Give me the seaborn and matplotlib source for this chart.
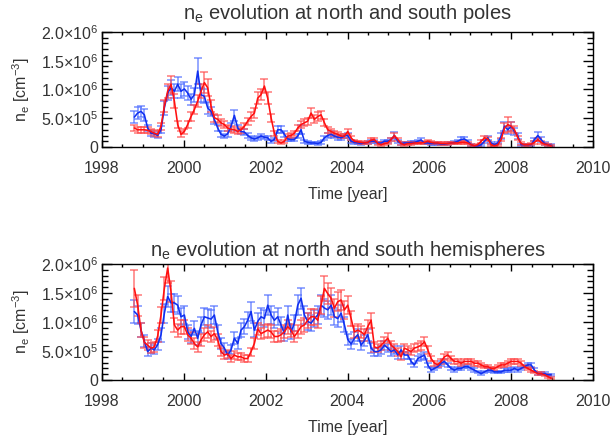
import numpy as np
import pandas as pd
import matplotlib
matplotlib.use("Agg")
import matplotlib.pyplot as plt
from matplotlib.ticker import MultipleLocator, FixedLocator, FixedFormatter
import seaborn as sns

# ---------------- data (ne in units of 1e6 cm^-3) ----------------
TIME = [1998.790, 1998.872, 1998.953, 1999.035, 1999.116, 1999.198, 1999.279, 1999.361,
        1999.442, 1999.524, 1999.605, 1999.687, 1999.768, 1999.850, 1999.931, 2000.013,
        2000.094, 2000.176, 2000.257, 2000.339, 2000.420, 2000.502, 2000.583, 2000.665,
        2000.746, 2000.828, 2000.909, 2000.991, 2001.072, 2001.154, 2001.235, 2001.317,
        2001.398, 2001.480, 2001.561, 2001.643, 2001.724, 2001.806, 2001.887, 2001.969,
        2002.050, 2002.132, 2002.213, 2002.295, 2002.376, 2002.458, 2002.539, 2002.621,
        2002.702, 2002.784, 2002.865, 2002.947, 2003.028, 2003.110, 2003.191, 2003.273,
        2003.354, 2003.436, 2003.517, 2003.599, 2003.680, 2003.762, 2003.843, 2003.925,
        2004.006, 2004.088, 2004.169, 2004.251, 2004.332, 2004.414, 2004.495, 2004.577,
        2004.658, 2004.740, 2004.821, 2004.903, 2004.984, 2005.066, 2005.147, 2005.229,
        2005.310, 2005.392, 2005.473, 2005.555, 2005.636, 2005.718, 2005.799, 2005.881,
        2005.962, 2006.044, 2006.125, 2006.207, 2006.288, 2006.370, 2006.451, 2006.533,
        2006.614, 2006.696, 2006.777, 2006.859, 2006.940, 2007.022, 2007.103, 2007.185,
        2007.266, 2007.348, 2007.429, 2007.511, 2007.592, 2007.674, 2007.755, 2007.837,
        2007.918, 2008.000, 2008.081, 2008.163, 2008.244, 2008.326, 2008.407, 2008.489,
        2008.570, 2008.652, 2008.733, 2008.815, 2008.896, 2008.978]

POLE_BLUE = [0.52, 0.59, 0.62, 0.56, 0.33, 0.24, 0.23, 0.20, 0.30, 0.68, 0.94, 1.03, 0.97, 1.09,
             0.97, 1.01, 0.94, 0.83, 0.91, 1.32, 0.91, 0.88, 0.68, 0.62, 0.48, 0.33, 0.22, 0.19,
             0.23, 0.36, 0.55, 0.33, 0.27, 0.26, 0.20, 0.16, 0.14, 0.16, 0.19, 0.17, 0.16, 0.10,
             0.13, 0.30, 0.30, 0.22, 0.14, 0.13, 0.13, 0.19, 0.30, 0.10, 0.08, 0.07, 0.07, 0.06,
             0.08, 0.16, 0.20, 0.22, 0.19, 0.17, 0.16, 0.19, 0.20, 0.10, 0.08, 0.07, 0.06, 0.07,
             0.08, 0.10, 0.10, 0.07, 0.07, 0.10, 0.10, 0.13, 0.20, 0.10, 0.06, 0.07, 0.07, 0.08,
             0.08, 0.10, 0.12, 0.07, 0.07, 0.06, 0.06, 0.06, 0.05, 0.05, 0.06, 0.07, 0.08, 0.10,
             0.13, 0.14, 0.10, 0.04, 0.02, 0.02, 0.04, 0.10, 0.16, 0.07, 0.04, 0.07, 0.19, 0.36,
             0.30, 0.36, 0.27, 0.19, 0.04, 0.04, 0.04, 0.04, 0.13, 0.20, 0.13, 0.06, 0.04, 0.03]
POLE_BLUE_ERR = [0.10, 0.10, 0.10, 0.10, 0.06, 0.05, 0.05, 0.05, 0.06, 0.12, 0.12, 0.13, 0.12, 0.12,
                 0.12, 0.12, 0.12, 0.10, 0.12, 0.22, 0.12, 0.12, 0.10, 0.08, 0.08, 0.06, 0.05, 0.04,
                 0.05, 0.06, 0.10, 0.06, 0.05, 0.05, 0.04, 0.04, 0.03, 0.03, 0.04, 0.03, 0.03, 0.03,
                 0.03, 0.06, 0.06, 0.05, 0.03, 0.03, 0.03, 0.04, 0.08, 0.03, 0.02, 0.02, 0.02, 0.02,
                 0.02, 0.04, 0.04, 0.05, 0.04, 0.04, 0.04, 0.04, 0.04, 0.03, 0.02, 0.02, 0.02, 0.02,
                 0.02, 0.03, 0.03, 0.02, 0.02, 0.03, 0.03, 0.03, 0.06, 0.03, 0.02, 0.02, 0.02, 0.02,
                 0.02, 0.03, 0.04, 0.02, 0.02, 0.02, 0.02, 0.02, 0.02, 0.02, 0.02, 0.02, 0.02, 0.03,
                 0.04, 0.04, 0.03, 0.02, 0.02, 0.02, 0.02, 0.03, 0.04, 0.02, 0.02, 0.02, 0.05, 0.08,
                 0.07, 0.08, 0.06, 0.05, 0.02, 0.02, 0.02, 0.02, 0.03, 0.06, 0.04, 0.02, 0.02, 0.02]

POLE_RED = [0.33, 0.30, 0.30, 0.30, 0.29, 0.27, 0.24, 0.22, 0.36, 0.71, 0.97, 1.09, 0.80, 0.39,
            0.22, 0.27, 0.39, 0.53, 0.65, 0.80, 0.97, 1.12, 1.03, 0.71, 0.51, 0.48, 0.42, 0.39,
            0.33, 0.31, 0.30, 0.27, 0.30, 0.36, 0.45, 0.53, 0.59, 0.85, 0.91, 1.06, 0.85, 0.51,
            0.24, 0.10, 0.07, 0.10, 0.19, 0.20, 0.24, 0.33, 0.39, 0.42, 0.45, 0.59, 0.48, 0.53,
            0.56, 0.42, 0.30, 0.27, 0.24, 0.22, 0.19, 0.19, 0.27, 0.16, 0.10, 0.09, 0.08, 0.07,
            0.08, 0.12, 0.13, 0.06, 0.04, 0.06, 0.07, 0.13, 0.20, 0.13, 0.06, 0.04, 0.06, 0.06,
            0.07, 0.07, 0.07, 0.08, 0.10, 0.08, 0.07, 0.07, 0.06, 0.06, 0.06, 0.07, 0.07, 0.07,
            0.08, 0.08, 0.07, 0.04, 0.02, 0.04, 0.10, 0.16, 0.14, 0.04, 0.02, 0.04, 0.13, 0.33,
            0.39, 0.36, 0.30, 0.16, 0.06, 0.04, 0.04, 0.05, 0.08, 0.13, 0.08, 0.05, 0.04, 0.02]
POLE_RED_ERR = [0.06, 0.05, 0.05, 0.05, 0.05, 0.05, 0.05, 0.05, 0.06, 0.10, 0.12, 0.15, 0.12, 0.06,
                0.05, 0.05, 0.06, 0.08, 0.08, 0.10, 0.12, 0.18, 0.15, 0.10, 0.07, 0.07, 0.06, 0.06,
                0.05, 0.05, 0.05, 0.05, 0.05, 0.05, 0.06, 0.07, 0.08, 0.10, 0.10, 0.12, 0.10, 0.07,
                0.04, 0.03, 0.02, 0.03, 0.04, 0.04, 0.04, 0.05, 0.06, 0.06, 0.06, 0.08, 0.07, 0.07,
                0.07, 0.06, 0.05, 0.04, 0.04, 0.04, 0.04, 0.04, 0.05, 0.03, 0.02, 0.02, 0.02, 0.02,
                0.02, 0.03, 0.03, 0.02, 0.02, 0.02, 0.02, 0.03, 0.05, 0.03, 0.02, 0.02, 0.02, 0.02,
                0.02, 0.02, 0.02, 0.02, 0.03, 0.02, 0.02, 0.02, 0.02, 0.02, 0.02, 0.02, 0.02, 0.02,
                0.02, 0.02, 0.02, 0.02, 0.02, 0.02, 0.03, 0.04, 0.04, 0.02, 0.02, 0.02, 0.03, 0.08,
                0.13, 0.08, 0.06, 0.04, 0.02, 0.02, 0.02, 0.02, 0.02, 0.03, 0.02, 0.02, 0.02, 0.02]

HEMI_BLUE = [1.18, 1.12, 0.86, 0.67, 0.49, 0.55, 0.52, 0.61, 0.78, 1.15, 1.44, 1.33, 1.33, 1.29,
             1.09, 1.12, 0.83, 0.75, 0.89, 0.72, 0.95, 1.09, 1.07, 1.05, 1.12, 0.83, 0.63, 0.55,
             0.43, 0.52, 0.72, 0.63, 0.86, 0.92, 1.03, 1.18, 0.86, 1.01, 1.09, 1.06, 1.29, 1.12,
             1.03, 1.09, 0.95, 0.80, 1.12, 0.83, 0.98, 1.29, 1.41, 1.12, 1.01, 0.98, 1.06, 1.12,
             1.29, 1.24, 1.21, 1.29, 1.09, 1.06, 1.15, 0.95, 0.70, 0.62, 0.72, 0.78, 0.60, 0.68,
             0.78, 0.55, 0.49, 0.49, 0.52, 0.60, 0.55, 0.49, 0.52, 0.43, 0.52, 0.43, 0.43, 0.32,
             0.26, 0.37, 0.40, 0.43, 0.26, 0.17, 0.20, 0.23, 0.29, 0.32, 0.26, 0.20, 0.17, 0.20,
             0.20, 0.23, 0.23, 0.20, 0.17, 0.14, 0.11, 0.14, 0.17, 0.17, 0.14, 0.14, 0.14, 0.17,
             0.17, 0.17, 0.20, 0.17, 0.20, 0.23, 0.26, 0.26, 0.17, 0.11, 0.11, 0.11, 0.09, 0.09]
HEMI_BLUE_ERR = [0.20, 0.16, 0.12, 0.10, 0.08, 0.08, 0.08, 0.10, 0.12, 0.16, 0.18, 0.16, 0.16, 0.16,
                 0.15, 0.15, 0.12, 0.12, 0.12, 0.12, 0.14, 0.15, 0.15, 0.15, 0.15, 0.12, 0.10, 0.08,
                 0.07, 0.08, 0.10, 0.10, 0.12, 0.13, 0.14, 0.16, 0.12, 0.14, 0.15, 0.15, 0.17, 0.15,
                 0.14, 0.15, 0.14, 0.12, 0.15, 0.12, 0.14, 0.17, 0.18, 0.15, 0.14, 0.14, 0.15, 0.15,
                 0.17, 0.16, 0.16, 0.17, 0.15, 0.15, 0.15, 0.13, 0.10, 0.09, 0.10, 0.10, 0.08, 0.09,
                 0.10, 0.08, 0.07, 0.07, 0.07, 0.08, 0.07, 0.07, 0.07, 0.06, 0.07, 0.06, 0.06, 0.05,
                 0.04, 0.05, 0.05, 0.06, 0.04, 0.03, 0.03, 0.03, 0.04, 0.04, 0.04, 0.03, 0.03, 0.03,
                 0.03, 0.03, 0.03, 0.03, 0.03, 0.02, 0.02, 0.02, 0.03, 0.03, 0.02, 0.02, 0.02, 0.03,
                 0.03, 0.03, 0.03, 0.03, 0.03, 0.03, 0.04, 0.04, 0.03, 0.02, 0.02, 0.02, 0.02, 0.02]

HEMI_RED = [1.58, 1.29, 0.86, 0.65, 0.60, 0.55, 0.57, 0.76, 1.12, 1.58, 1.93, 1.52, 0.95, 0.86,
            0.92, 0.92, 0.78, 0.72, 0.63, 0.57, 0.69, 0.78, 0.83, 0.75, 0.80, 0.69, 0.49, 0.43,
            0.45, 0.37, 0.43, 0.40, 0.40, 0.37, 0.37, 0.49, 0.63, 0.88, 0.80, 0.83, 0.86, 0.83,
            0.75, 0.75, 0.78, 0.83, 0.92, 0.86, 0.75, 0.83, 0.92, 0.95, 1.03, 1.09, 1.09, 1.03,
            1.29, 1.58, 1.49, 1.41, 1.24, 1.35, 1.38, 1.21, 1.29, 1.06, 0.83, 0.86, 0.83, 0.78,
            0.92, 1.03, 0.57, 0.55, 0.60, 0.66, 0.72, 0.60, 0.55, 0.49, 0.40, 0.55, 0.52, 0.49,
            0.55, 0.57, 0.60, 0.66, 0.52, 0.37, 0.29, 0.26, 0.32, 0.40, 0.43, 0.37, 0.32, 0.32,
            0.29, 0.32, 0.32, 0.32, 0.29, 0.29, 0.26, 0.23, 0.23, 0.20, 0.20, 0.23, 0.26, 0.26,
            0.29, 0.32, 0.32, 0.32, 0.29, 0.23, 0.20, 0.17, 0.14, 0.11, 0.11, 0.09, 0.06, 0.03]
HEMI_RED_ERR = [0.32, 0.18, 0.12, 0.10, 0.09, 0.08, 0.08, 0.10, 0.14, 0.20, 0.25, 0.18, 0.12, 0.11,
                0.12, 0.12, 0.11, 0.10, 0.09, 0.09, 0.10, 0.11, 0.11, 0.10, 0.11, 0.10, 0.07, 0.07,
                0.07, 0.06, 0.07, 0.06, 0.06, 0.06, 0.06, 0.07, 0.09, 0.11, 0.10, 0.11, 0.11, 0.11,
                0.10, 0.10, 0.10, 0.11, 0.12, 0.11, 0.10, 0.11, 0.12, 0.12, 0.13, 0.14, 0.14, 0.13,
                0.16, 0.22, 0.18, 0.17, 0.15, 0.16, 0.17, 0.15, 0.16, 0.13, 0.10, 0.11, 0.10, 0.10,
                0.11, 0.13, 0.08, 0.07, 0.08, 0.08, 0.09, 0.08, 0.07, 0.07, 0.06, 0.07, 0.07, 0.06,
                0.07, 0.07, 0.08, 0.08, 0.07, 0.05, 0.04, 0.04, 0.05, 0.05, 0.06, 0.05, 0.04, 0.04,
                0.04, 0.04, 0.04, 0.04, 0.04, 0.04, 0.04, 0.03, 0.03, 0.03, 0.03, 0.03, 0.04, 0.04,
                0.04, 0.04, 0.04, 0.04, 0.04, 0.03, 0.03, 0.03, 0.02, 0.02, 0.02, 0.02, 0.02, 0.02]

UNIT = 1e6
TITLES = [r"n$_\mathregular{e}$ evolution at north and south poles",
          r"n$_\mathregular{e}$ evolution at north and south hemispheres"]
XLABEL = "Time [year]"
YLABEL = r"n$_\mathregular{e}$ [cm$^{\mathregular{-3}}$]"
XTICKS = [1998, 2000, 2002, 2004, 2006, 2008, 2010]
YTICKS = [0, 5e5, 1e6, 1.5e6, 2e6]
YTICKLABELS = ["0", r"5.0$\times$10$^\mathregular{5}$", r"1.0$\times$10$^\mathregular{6}$",
               r"1.5$\times$10$^\mathregular{6}$", r"2.0$\times$10$^\mathregular{6}$"]

# ---------------- style ----------------
sns.set_theme(style="ticks")
plt.rcParams["font.family"] = ["Liberation Sans", "DejaVu Sans"]
plt.rcParams["mathtext.fontset"] = "custom"
plt.rcParams["mathtext.rm"] = "Liberation Sans"
plt.rcParams["mathtext.it"] = "Liberation Sans"
plt.rcParams["mathtext.default"] = "regular"

TEXT_COLOR = "#333333"
BLUE = "#1030f0"
RED = "#ff1010"
BLUE_ERR = "#4d6cff"
RED_ERR = "#ff4d4d"
FS = 11.5

fig = plt.figure(figsize=(6.14, 4.43), dpi=100)
W, H = 614, 443
ax1 = fig.add_axes([102 / W, 1 - 147 / H, 491 / W, 115 / H])
ax2 = fig.add_axes([102 / W, 1 - 380 / H, 491 / W, 116 / H])

series = [
    (ax1, POLE_BLUE, POLE_BLUE_ERR, POLE_RED, POLE_RED_ERR, TITLES[0], 9),
    (ax2, HEMI_BLUE, HEMI_BLUE_ERR, HEMI_RED, HEMI_RED_ERR, TITLES[1], 6),
]

for ax, vb, eb, vr, er, title, tpad in series:
    df = pd.DataFrame({
        "time": TIME,
        "blue": np.array(vb) * UNIT, "blue_err": np.array(eb) * UNIT,
        "red": np.array(vr) * UNIT, "red_err": np.array(er) * UNIT,
    })
    for col, c, ce in [("blue", BLUE, BLUE_ERR), ("red", RED, RED_ERR)]:
        ax.errorbar(df["time"], df[col], yerr=df[col + "_err"], fmt="none",
                    ecolor=ce, alpha=0.75, elinewidth=1.1, capsize=3.0, capthick=1.1,
                    zorder=2)
        sns.lineplot(data=df, x="time", y=col, ax=ax, color=c, linewidth=1.15,
                     estimator=None, sort=False, zorder=3)

    ax.set_xlim(1998, 2010)
    ax.set_ylim(0, 2e6)
    ax.xaxis.set_major_locator(FixedLocator(XTICKS))
    ax.xaxis.set_minor_locator(MultipleLocator(0.5))
    ax.yaxis.set_major_locator(FixedLocator(YTICKS))
    ax.yaxis.set_major_formatter(FixedFormatter(YTICKLABELS))
    ax.yaxis.set_minor_locator(MultipleLocator(1e5))
    ax.set_xticklabels([str(t) for t in XTICKS])
    ax.tick_params(which="both", direction="in", top=True, right=True,
                   colors="black", labelcolor=TEXT_COLOR, labelsize=FS, width=1.0)
    ax.tick_params(axis="y", which="major", length=7, pad=3)
    ax.tick_params(axis="y", which="minor", length=4)
    ax.tick_params(axis="x", which="major", length=5, pad=10)
    ax.tick_params(axis="x", which="minor", length=2.5)
    for s in ax.spines.values():
        s.set_color("black")
        s.set_linewidth(1.0)
    ax.set_xlabel(XLABEL, fontsize=FS, color=TEXT_COLOR, labelpad=8)
    ax.set_ylabel(YLABEL, fontsize=FS, color=TEXT_COLOR, labelpad=6)
    ax.set_title(title, fontsize=14.5, color=TEXT_COLOR, pad=tpad)
    ax.grid(False)

fig.savefig("out.png", dpi=100, facecolor="white")
